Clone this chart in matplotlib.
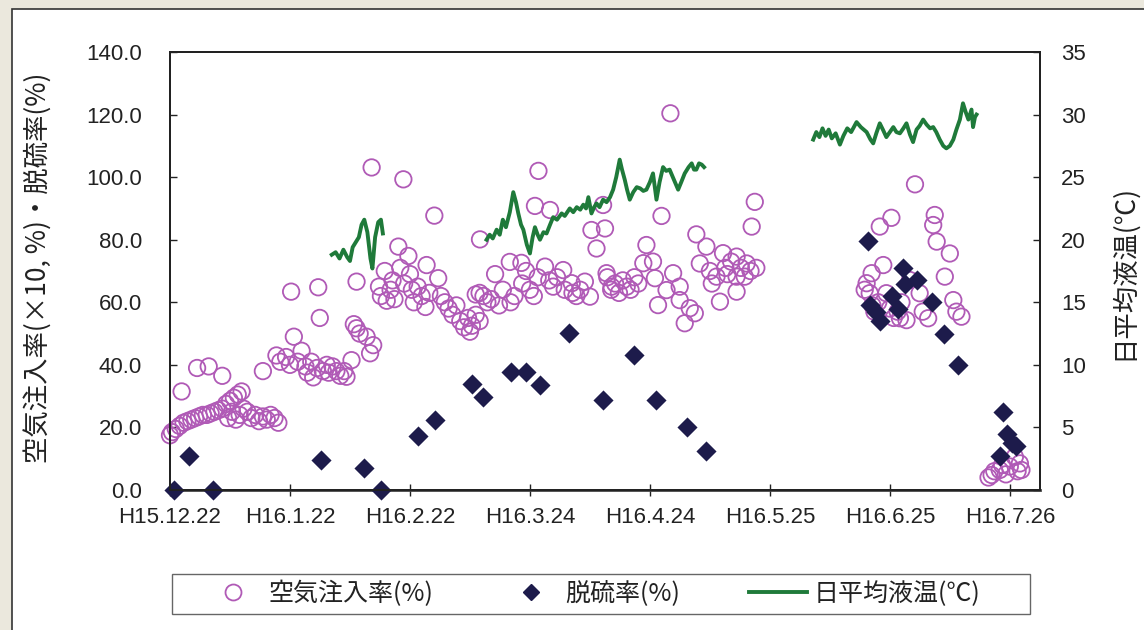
import numpy as np
import matplotlib
matplotlib.use("Agg")
import matplotlib.pyplot as plt
from matplotlib.lines import Line2D
from matplotlib.patches import Rectangle

# ---------------- data (x = days since H15.12.22) ----------------
tick_days = [0, 31, 62, 93, 124, 155, 186, 217]
tick_labels = ["H15.12.22", "H16.1.22", "H16.2.22", "H16.3.24",
               "H16.4.24", "H16.5.25", "H16.6.25", "H16.7.26"]

air_days = [
    0, 0.5, 1.5, 2.5, 3.5, 4.5, 5.5, 6.5, 7.5, 8.5, 9.5, 10.5, 11.5, 12.5, 13.5,
    14.5, 15.5, 16.5, 17.5, 18.5, 15, 16, 17, 18, 19, 20, 21, 22, 23, 24, 25, 26,
    27, 28, 3, 7, 10, 13.5,
    24, 27.5, 28.5, 30, 31, 32, 33, 34, 35, 35.5, 36.5, 37, 38, 38.7, 39.5, 40.5,
    41, 42, 43, 44, 45, 45.6, 46.9, 48.2, 47.5, 49, 50.8, 51.7, 52.5, 31.3, 38.3,
    48.2, 52.1, 54, 54.5, 55.5, 56, 57, 57.5, 58, 59, 59.5, 60.3, 60.5, 61.6, 62,
    62.5, 63, 64, 65, 66.3, 66, 67, 68.3, 69.3, 70, 71, 72, 73, 74, 75, 76, 77,
    77.5, 78, 79, 80,
    80.1, 79, 80, 81, 82, 83, 84, 85, 86, 87.8, 88, 89, 90.8, 91, 92, 93, 94,
    94.3, 95, 95.2, 96.9, 98.2, 98, 99, 100, 101.6, 102, 103.8, 104, 105, 106,
    107.2, 108.5, 108.9, 110.2, 111.9, 112.4, 112.8, 114.1,
    113, 114, 115, 116, 117, 118, 119, 120, 121, 122.3, 123.1, 124.8, 125.3,
    126.1, 127, 128.3, 129.3, 130, 131.7, 131.7, 133, 134.3, 135.6, 136, 136.9,
    138.6,
    139.5, 140, 141.2, 142.1, 142.9, 143.5, 144, 145, 146.4, 146.4, 146.4, 147.5,
    148.5, 149, 150, 150.3, 151.1, 151.5,
    179.5, 180, 180.8, 181.3, 181.5, 182, 183, 183.4, 184.3, 185.1, 186, 186.4,
    187, 188, 188.6, 189, 190.3, 191.2, 192.5, 193.7, 194.5, 195.9, 197.2, 197.6,
    198.1, 200.2, 201.5, 202.4, 203.2, 204.5,
    211.5, 212.3, 213, 214.4, 215, 216, 217, 218.3, 219, 219.6, 220,
]
air_vals = [
    17.5, 18.5, 19.5, 20.5, 21.5, 22, 22.5, 23, 23.5, 24, 24, 24.5, 25, 25.5, 26,
    27.5, 28.5, 29.5, 30.5, 31.5, 23, 25, 22.5, 24, 26, 25, 23, 24, 22, 23.5, 22.5,
    24, 23, 21.5, 31.5, 39, 39.5, 36.5,
    38, 43, 41, 42.5, 40, 49, 41, 44.5, 39.5, 37.5, 41, 36, 39, 55, 38, 40,
    37.5, 39.5, 38, 36.5, 38, 36.2, 41.5, 51.7, 53, 50, 49, 43.7, 46.3, 63.4, 64.8,
    66.6, 103.1, 65, 62, 70, 60.5, 64, 67, 61, 77.8, 71, 99.3, 66, 74.8, 69,
    64, 60, 65, 62, 71.9, 58.5, 63, 87.7, 67.7, 62, 60, 58, 56, 59, 54, 52, 55,
    50.6, 52.5, 56, 54,
    80.1, 62.5, 63, 62, 60, 61, 69, 59, 64, 72.9, 60, 62, 72.6, 66, 70, 64, 62,
    90.8, 68, 102, 71.4, 89.5, 67, 65, 68, 70.3, 64, 66.1, 63, 62, 64,
    66.6, 61.8, 83.1, 77.2, 91.1, 83.6, 69.3, 65,
    68, 64, 66, 63, 67, 65, 64, 68, 66, 72.5, 78.3, 73, 67.7,
    59.1, 87.6, 63.9, 120.4, 69.3, 65, 60.7, 53.3, 58.1, 56.5, 81.7, 72.4,
    77.8,
    70, 66, 68.2, 60.2, 75.7, 71, 69, 73, 74.6, 68.2, 63.4, 71,
    68.2, 72.4, 70, 84.2, 92.1, 71,
    64, 66.1, 62.9, 69.3, 59, 57, 60, 84.2, 71.9, 62.9, 58, 87,
    55, 57, 54.9, 60, 54.3, 67.1, 97.7, 62.9, 57, 54.9, 84.7, 87.9,
    79.4, 68.2, 75.6, 60.7, 57, 55.4,
    4, 4.8, 6, 6.4, 8, 5, 7.5, 10.6, 6, 8.5, 6.4,
]

desulf_days = [1, 5, 11, 39, 50, 54.5, 64, 68.5, 78, 81, 88, 92, 95.5, 103,
               112, 120, 125.5, 133.5, 138.5,
               180.3, 181, 182.5, 183.5, 186.5, 188, 189.4, 190, 193, 197, 200,
               203.6, 214.4, 215.2, 216.2, 217.5, 218.5]
desulf_vals = [0, 11, 0, 9.6, 7, 0, 17.3, 22.4, 33.9, 29.7, 37.7, 37.7, 33.6, 50.2,
               28.8, 43.1, 28.8, 20.1, 12.5,
               79.5, 59, 57, 54, 62, 58, 71, 66, 67, 60, 50,
               40, 11, 25, 18, 15, 14]

temp1_days = [41.8, 42.8, 43.8, 44.8, 45.8, 46.5, 47.2, 48, 48.8, 49.5, 50.2, 51,
              51.8, 52.3, 53, 53.8, 54.5, 55]
temp1_vals = [18.8, 19.0, 18.5, 19.2, 18.6, 18.3, 19.4, 19.8, 20.2, 21.2, 21.6, 20.6,
              18.5, 17.7, 20.2, 21.4, 21.6, 20.5]

temp2_days = [81.8, 82.6, 83.4, 84.4, 85.2, 86, 86.8, 87.8, 88.7, 89.4, 90, 90.7,
              91.3, 92.2, 93, 93.7, 94.3, 95, 95.6, 96.5, 97.3, 98.2, 99, 100,
              101.2, 102, 103.3, 104.2, 105.1, 106, 106.8, 107.5, 108.1, 108.9,
              109.6, 110.2, 111, 111.9, 112.8, 113.7, 114.5, 115.3, 116.2, 116.8,
              117.5, 118.1, 118.8, 119.7, 120.6, 121.5, 122.3, 123.1, 124, 124.8,
              125.7, 126.5, 127.4, 128.2, 129.1, 130.2, 131.3, 132.1, 133, 134,
              134.8, 135.4, 136, 136.7, 137.4, 138]
temp2_vals = [20.0, 20.4, 20.1, 20.8, 20.4, 21.6, 21.0, 22.2, 23.8, 23.0, 22.1, 21.2,
              20.8, 19.6, 18.9, 20.2, 21.0, 20.4, 20.0, 20.6, 20.5, 21.2, 21.8, 21.6,
              22.1, 21.9, 22.5, 22.2, 22.6, 22.4, 22.8, 22.5, 23.4, 22.1,
              22.6, 22.9, 22.6, 23.2, 23.0, 23.4, 24.0, 25.0, 26.4, 25.6,
              24.8, 24.0, 23.2, 23.8, 24.2, 24.1, 23.9, 24.0, 24.6, 25.3,
              23.2, 24.6, 25.8, 25.5, 25.6, 24.8, 24.0, 24.6, 25.3, 25.8,
              26.1, 25.6, 25.6, 26.1, 26.0, 25.8]

temp3_days = [166.2, 167, 167.8, 168.6, 169.4, 170.2, 171, 172, 173.1, 174, 175, 176,
              177.4, 178.5, 180, 181, 181.7, 182.5, 183.4, 184.2, 185.1, 186, 186.9,
              187.7, 188.6, 189.5, 190.3, 191.2, 192, 192.9, 193.7, 194.6, 195.5,
              196.4, 197.2, 198, 198.9, 199.8, 200.6, 201.5, 202.4, 203.2, 204.1,
              204.9, 205.6, 206.3, 207.1, 207.5, 208, 208.4]
temp3_vals = [28.0, 28.6, 28.2, 28.9, 28.3, 28.8, 28.1, 28.5, 27.6, 28.3, 28.9, 28.6,
              29.4, 29.0, 28.6, 28.0, 27.7, 28.5, 29.3, 28.8, 28.2, 28.6, 29.0,
              28.6, 28.5, 28.9, 29.3, 28.4, 27.8, 28.8, 29.1, 29.6, 29.2,
              28.9, 29.0, 28.6, 28.0, 27.5, 27.3, 27.5, 28.0, 28.8, 29.6,
              30.9, 30.2, 29.6, 30.4, 29.0, 29.8, 30.0]

label_air = "空気注入率(%)"
label_desulf = "脱硫率(%)"
label_temp = "日平均液温(℃)"
ylabel_left = "空気注入率(×10, %)・脱硫率(%)"
ylabel_right = "日平均液温(℃)"

# ---------------- style ----------------
W, H = 1144, 630
plt.rcParams['font.family'] = ['Liberation Sans', 'Noto Sans CJK JP', 'DejaVu Sans']
cjk = ['Noto Sans CJK JP', 'DejaVu Sans']
BG = "#ebe8dd"
PURPLE = "#b05ab6"
NAVY = "#1d1b4b"
GREEN = "#1f7a3a"
TXT = "#222222"

fig = plt.figure(figsize=(W / 100, H / 100), dpi=100, facecolor=BG)
# white panel
fig.patches.append(Rectangle((12 / W, -0.05), 1.1, 1 - 9 / H + 0.05,
                             transform=fig.transFigure, facecolor="white",
                             edgecolor="#333333", linewidth=1.2, zorder=-10))
# legend frame
fig.patches.append(Rectangle((172 / W, 1 - 614 / H), (1030 - 172) / W, 40 / H,
                             transform=fig.transFigure, facecolor="white",
                             edgecolor="#666666", linewidth=1.0, zorder=-5))

ax = fig.add_axes([170 / W, 1 - 490 / H, (1040 - 170) / W, (490 - 52) / H])
ax.set_facecolor("none")
ax2 = ax.twinx()

ax.scatter(air_days, air_vals, s=140, facecolors="none", edgecolors=PURPLE,
           linewidths=1.3, zorder=3, clip_on=False)
ax.scatter(desulf_days, desulf_vals, s=105, marker="D", color=NAVY, zorder=4,
           clip_on=False, linewidths=0)
for d, v in [(temp1_days, temp1_vals), (temp2_days, temp2_vals), (temp3_days, temp3_vals)]:
    ax2.plot(d, v, color=GREEN, lw=2.8, solid_joinstyle="round")

ax.set_xlim(0, 224.8)
ax.set_ylim(0, 140)
ax2.set_ylim(0, 35)
ax.set_xticks(tick_days)
ax.set_xticklabels(tick_labels)
ax.set_yticks(np.arange(0, 141, 20))
ax.set_yticklabels([f"{v:.1f}" for v in np.arange(0, 141, 20)])
ax2.set_yticks(np.arange(0, 36, 5))

ax.tick_params(axis="x", direction="inout", length=9, width=1, pad=8,
               labelsize=16, colors=TXT)
ax.tick_params(axis="y", direction="in", length=5, width=1, pad=20,
               labelsize=16, colors=TXT)
ax2.tick_params(axis="y", direction="in", length=5, width=1, pad=15,
                labelsize=16, colors=TXT)
for a in (ax, ax2):
    for s in a.spines.values():
        s.set_linewidth(1.4)
        s.set_color("#222222")
ax.spines["bottom"].set_linewidth(2.0)
ax.spines["bottom"].set_color("#444444")

fig.text(38 / W, 1 - 268 / H, ylabel_left, rotation=90, ha="center", va="center",
         fontsize=19, family=cjk, color=TXT)
fig.text(1123 / W, 1 - 272 / H, ylabel_right, rotation=90, ha="center", va="center",
         fontsize=19, family=cjk, color=TXT)

handles = [
    Line2D([], [], marker="o", ls="none", markersize=11.5, markerfacecolor="none",
           markeredgecolor=PURPLE, markeredgewidth=1.3),
    Line2D([], [], marker="D", ls="none", markersize=8.5, color=NAVY),
    Line2D([], [], color=GREEN, lw=2.8),
]
leg = fig.legend(handles, [label_air, label_desulf, label_temp], ncol=3,
                 loc="center left", bbox_to_anchor=(204 / W, 1 - 594 / H),
                 prop={"family": cjk, "size": 18}, frameon=False,
                 handlelength=2.32, handletextpad=0.24, columnspacing=2.75,
                 borderpad=0, borderaxespad=0)
for t in leg.get_texts():
    t.set_color(TXT)

fig.savefig("out.png", dpi=100, facecolor=BG)
